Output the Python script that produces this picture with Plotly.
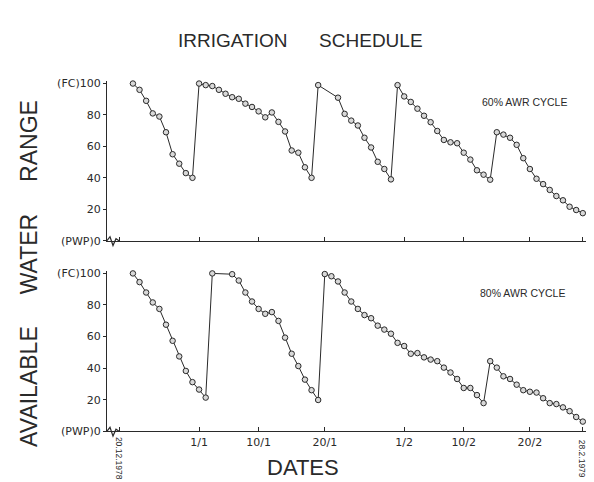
import pandas as pd
import plotly.graph_objects as go

# daily readings from 22 Dec 1978 to 28 Feb 1979 (None = no reading)
dates = [d.strftime("%Y-%m-%d") for d in pd.date_range("1978-12-22", "1979-02-28")]

awr60 = [100, 96, 89, 81, 79, 69, 55, 49, 43, 40,
         100, 99, 98.4, 96, 93.5, 91.3, 90.3, 87.2, 85.1, 82.3, 78.5, 81.6, 75.6, 69.5, 57.4, 56, 46.7, 40,
         99, None, None, 91, 80.7, 76.4, 73.3, 65.5, 59.3, 50.2, 45.6, 39,
         99, 91.8, 88.3, 84, 79.5, 75.4, 69.8, 64.1, 62.6, 62, 56, 51.6, 44.8, 42, 38.8,
         69, 67.5, 65.5, 61, 52.5, 45.6, 39.4, 36, 32.3, 28.4, 25.7, 21.6, 19.5, 17.5]

awr80 = [100, 94.5, 87.9, 81.6, 77.5, 67.5, 57.3, 47.4, 38.2, 31.1, 26.4, 21.3,
         100, None, None, 99.5, 95.5, 87.9, 82.2, 77.5, 74.4, 75.5, 69.9, 59.3, 49.1, 41.3, 32.7, 26, 19.8,
         99.6, 98.2, 94.9, 87.9, 82.2, 77.5, 73.6, 71.6, 66.9, 64.4, 61.8, 56, 54, 49.1, 49.5, 46.8,
         45.4, 44.4, 40.3, 37.2, 33.1, 27.4, 27.4, 22.9, 17.8,
         44.4, 40.3, 34.8, 33.1, 29.5, 26, 25, 24.5, 20.9, 17.8, 17.2, 15.1, 12.7, 9, 6.1]

tick_dates = ["1978-12-20", "1979-01-01", "1979-01-10", "1979-01-20",
              "1979-02-01", "1979-02-10", "1979-02-20", "1979-02-28"]
tick_labels = ["", "1/1", "10/1", "20/1", "1/2", "10/2", "20/2", ""]
end_labels = ["20.12.1978", "28.2.1979"]

y_ticks = [0, 20, 40, 60, 80, 100]
y_labels = ["(PWP)0", "20", "40", "60", "80", "(FC)100"]

W, H = 594, 482
ink = "#2a2a2a"
sans = "Liberation Sans, Arial, sans-serif"
small = "DejaVu Sans, sans-serif"

x_start = pd.Timestamp("1978-12-20") - pd.Timedelta(hours=46)
x_end = pd.Timestamp("1978-12-20") + pd.Timedelta(hours=72.9 * 24)

fig = go.Figure()
for vals, xa, ya in [(awr60, "x", "y"), (awr80, "x2", "y2")]:
    fig.add_trace(go.Scatter(
        x=dates, y=vals, xaxis=xa, yaxis=ya, mode="lines+markers",
        connectgaps=True, cliponaxis=False, showlegend=False,
        line=dict(color=ink, width=1),
        marker=dict(symbol="circle", size=5.5, color="#d8d8d8",
                    line=dict(color=ink, width=1)),
    ))

xcommon = dict(type="date", range=[x_start, x_end], domain=[99 / W, 1],
               showline=True, linecolor=ink, linewidth=1.2, showgrid=False,
               zeroline=False, tickmode="array", tickvals=tick_dates,
               ticks="inside", ticklen=4, tickcolor=ink)
ycommon = dict(range=[0, 101.5], showline=True, linecolor=ink, linewidth=1.2,
               showgrid=False, zeroline=False, tickmode="array",
               tickvals=y_ticks, ticktext=y_labels, ticks="outside",
               ticklen=3, tickcolor=ink,
               tickfont=dict(family=small, size=11, color=ink))

top_dom = [1 - 234 / H, 1 - 70.8 / H]
bot_dom = [1 - 429 / H, 1 - 265.1 / H]

fig.update_layout(
    width=W, height=H, margin=dict(l=0, r=0, t=0, b=0),
    paper_bgcolor="white", plot_bgcolor="white",
    xaxis=dict(**xcommon, anchor="y", ticktext=[""] * len(tick_dates)),
    xaxis2=dict(**xcommon, anchor="y2", ticktext=tick_labels,
                tickfont=dict(family=small, size=11, color=ink)),
    yaxis=dict(**ycommon, anchor="x", domain=top_dom),
    yaxis2=dict(**ycommon, anchor="x2", domain=bot_dom),
)

nb = "\u00a0"
ann = [
    dict(text="IRRIGATION" + nb * 6 + "SCHEDULE", x=292 / W, y=1 - 29 / H,
         font=dict(family=sans, size=19, color=ink)),
    dict(text="AVAILABLE" + nb * 5 + "WATER" + nb * 5 + "RANGE", x=21 / W, y=1 - 268 / H,
         textangle=-90, font=dict(family=sans, size=23, color=ink)),
    dict(text="DATES", x=295 / W, y=1 - 466 / H,
         font=dict(family=sans, size=22, color=ink)),
    dict(text="60% AWR CYCLE", x=516 / W, y=1 - 92 / H,
         font=dict(family=sans, size=10.5, color=ink)),
    dict(text="80% AWR CYCLE", x=514 / W, y=1 - 288 / H,
         font=dict(family=sans, size=10.5, color=ink)),
]
for a in ann:
    fig.add_annotation(xref="paper", yref="paper", showarrow=False,
                       xanchor="center", yanchor="middle", **a)
for d, lab in zip([tick_dates[0], tick_dates[-1]], end_labels):
    fig.add_annotation(x=d, xref="x2", y=1 - 457 / H, yref="paper", text=lab,
                       textangle=90, showarrow=False, xanchor="center", yanchor="middle",
                       borderpad=0,
                       font=dict(family=sans, size=8.5, color=ink))

# axis-break zigzag at the foot of each y axis
for dom in (top_dom, bot_dom):
    y0 = dom[0]
    pts = [(99, 0), (102, 4), (105, -5), (108, 2), (111, 0)]
    path = "M " + " L ".join(f"{px / W:.5f},{y0 + dy / H:.5f}" for px, dy in pts)
    fig.add_shape(type="path", path=path, xref="paper", yref="paper",
                  line=dict(color=ink, width=1.2))

fig.write_html("out.html")
